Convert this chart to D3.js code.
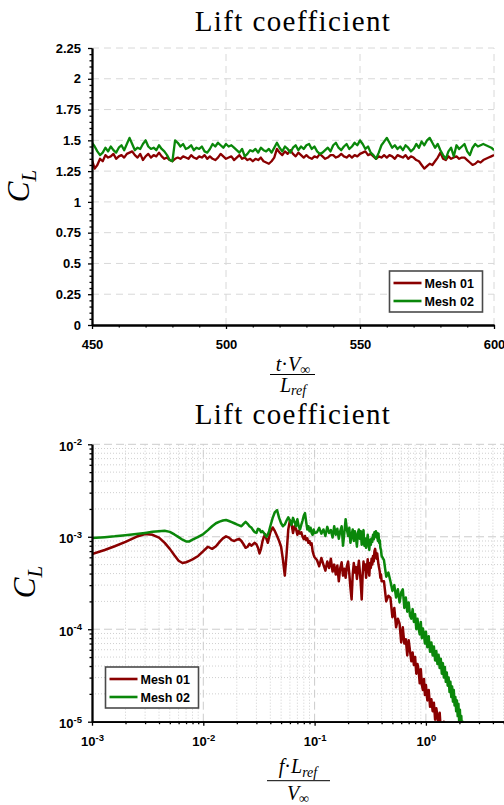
<!DOCTYPE html>
<html>
<head>
<meta charset="utf-8">
<script src="https://cdn.jsdelivr.net/npm/d3@7"></script>
<style>
  body { margin: 0; background: #fff; }
  svg { display: block; }
  .tick text { font-family: "Liberation Sans", Arial, sans-serif; font-weight: bold; font-size: 13px; fill: #000; }
</style>
</head>
<body>
<svg id="chart" width="504" height="805"></svg>
<script>
// ---- Time history of the lift coefficient ----
const timeSamples = [
  450,451,452,453,454,455,456,457,458,459,460,461,462,463,464,465,466,467,468,469,
  470,471,472,473,474,475,476,477,478,479,480,481,482,483,484,485,486,487,488,489,
  490,491,492,493,494,495,496,497,498,499,500,501,502,503,504,505,506,507,508,509,
  510,511,512,513,514,515,516,517,518,519,520,521,522,523,524,525,526,527,528,529,
  530,531,532,533,534,535,536,537,538,539,540,541,542,543,544,545,546,547,548,549,
  550,551,552,553,554,555,556,557,558,559,560,561,562,563,564,565,566,567,568,569,
  570,571,572,573,574,575,576,577,578,579,580,581,582,583,584,585,586,587,588,589,
  590,591,592,593,594,595,596,597,598,599,600
];
const clMesh01 = [
  1.34,1.27,1.30,1.35,1.33,1.38,1.36,1.37,1.39,1.35,
  1.37,1.38,1.36,1.39,1.40,1.41,1.38,1.36,1.39,1.34,
  1.37,1.39,1.36,1.38,1.37,1.40,1.37,1.35,1.36,1.34,
  1.33,1.35,1.36,1.35,1.37,1.36,1.35,1.38,1.36,1.35,
  1.37,1.36,1.38,1.35,1.37,1.35,1.34,1.36,1.39,1.37,
  1.35,1.36,1.37,1.34,1.36,1.38,1.35,1.36,1.34,1.35,
  1.33,1.35,1.34,1.36,1.33,1.32,1.31,1.33,1.36,1.43,
  1.40,1.38,1.41,1.39,1.42,1.39,1.37,1.40,1.38,1.36,
  1.38,1.36,1.35,1.37,1.36,1.39,1.37,1.35,1.36,1.38,
  1.38,1.36,1.37,1.39,1.37,1.36,1.38,1.36,1.38,1.37,
  1.39,1.40,1.41,1.38,1.39,1.37,1.35,1.37,1.36,1.38,
  1.36,1.38,1.37,1.35,1.38,1.37,1.36,1.38,1.35,1.37,
  1.36,1.34,1.33,1.30,1.27,1.29,1.31,1.30,1.33,1.36,
  1.40,1.35,1.34,1.37,1.35,1.36,1.37,1.35,1.36,1.36,
  1.34,1.32,1.30,1.31,1.33,1.32,1.34,1.35,1.36,1.37,
  1.38
];
const clMesh02 = [
  1.48,1.45,1.41,1.38,1.40,1.44,1.41,1.45,1.42,1.40,
  1.44,1.46,1.42,1.47,1.52,1.47,1.42,1.44,1.43,1.47,
  1.50,1.45,1.43,1.44,1.42,1.46,1.43,1.41,1.38,1.34,
  1.33,1.50,1.48,1.45,1.47,1.43,1.44,1.46,1.42,1.44,
  1.43,1.45,1.41,1.40,1.43,1.47,1.45,1.48,1.46,1.44,
  1.47,1.45,1.46,1.44,1.42,1.40,1.43,1.37,1.39,1.42,
  1.41,1.43,1.40,1.44,1.42,1.41,1.43,1.40,1.44,1.48,
  1.44,1.41,1.45,1.43,1.40,1.44,1.46,1.42,1.45,1.43,
  1.46,1.47,1.43,1.45,1.41,1.39,1.40,1.42,1.44,1.41,
  1.46,1.48,1.44,1.42,1.45,1.47,1.43,1.45,1.48,1.46,
  1.50,1.47,1.43,1.45,1.40,1.38,1.35,1.40,1.46,1.49,
  1.52,1.48,1.44,1.46,1.43,1.45,1.42,1.46,1.44,1.41,
  1.43,1.47,1.44,1.49,1.46,1.50,1.52,1.48,1.44,1.47,
  1.42,1.38,1.35,1.41,1.44,1.37,1.46,1.43,1.45,1.47,
  1.41,1.38,1.44,1.47,1.45,1.46,1.47,1.46,1.45,1.44,
  1.42
];
const timeTicks = [450, 500, 550, 600];
const clTicks = [0, 0.25, 0.5, 0.75, 1, 1.25, 1.5, 1.75, 2, 2.25];
const clTickLabels = ["0", "0.25", "0.5", "0.75", "1", "1.25", "1.5", "1.75", "2", "2.25"];

// ---- Spectrum of the lift coefficient ----
const psdFreq = [
  0.001,0.0013,0.0016,0.002,0.0025,0.003,0.0035,0.004,0.0045,0.005,0.0055,0.006,0.0065,0.007,
  0.0075,0.008,0.009,0.01,0.011,0.012,0.013,0.014,0.015,0.016,0.017,0.018,0.019,0.02,
  0.021,0.022,0.023,0.024,0.025,0.026,0.027,0.028,0.029,0.03,0.031,0.032,0.033,0.034,0.035,
  0.036,0.037,0.038,0.039,0.04,
  0.042,0.044,0.046,0.048,0.05,0.052,0.054,0.056,0.058,0.06,0.062,0.064,0.066,0.068,0.07,
  0.072,0.074,0.076,0.078,0.08,0.082,0.084,0.086,0.088,0.09,0.092,0.094,0.096,0.098,0.1,
  0.105,0.11,0.115,0.12,0.125,0.13,0.135,0.14,0.145,0.15,0.155,0.16,0.165,0.17,0.175,0.18,
  0.185,0.19,0.195,0.2,0.205,0.21,0.215,0.22,0.225,0.23,0.235,0.24,0.245,0.25,0.255,0.26,
  0.265,0.27,0.275,0.28,0.285,0.29,0.295,0.3,0.305,0.31,0.315,0.32,0.325,0.33,0.335,0.34,
  0.345,0.35,0.355,0.36,0.365,0.37,0.375,0.38,0.385,0.39,0.395,0.4,
  0.42,0.44,0.46,0.48,0.5,0.52,0.54,0.56,0.58,0.6,0.62,0.64,0.66,0.68,0.7,0.72,0.74,0.76,
  0.78,0.8,0.82,0.84,0.86,0.88,0.9,0.92,0.94,0.96,0.98,1.0,
  1.03,1.06,1.09,1.12,1.15,1.18,1.21,1.24,1.27,1.3,1.33,1.36,1.39,1.42,1.45,1.48,1.51,1.54,
  1.57,1.6,1.63,1.66,1.69,1.72,1.75,1.78,1.81,1.84,1.87,1.9,1.93,1.96,1.99,2.02,2.05,2.08,
  2.11,2.14,2.17,2.2,2.23,2.26
];
const psdMesh01 = [
  6.5e-4,7.2e-4,7.9e-4,8.8e-4,1.0e-3,1.07e-3,1.05e-3,9.8e-4,8.6e-4,7.4e-4,6.3e-4,5.5e-4,5.2e-4,5.3e-4,
  5.5e-4,5.7e-4,6.2e-4,7.0e-4,7.8e-4,7.4e-4,7.9e-4,8.8e-4,9.6e-4,1.01e-3,9.8e-4,9.2e-4,9.0e-4,9.3e-4,
  9.5e-4,9.0e-4,8.3e-4,7.6e-4,7.8e-4,8.4e-4,8.0e-4,8.3e-4,8.6e-4,8.3e-4,7.6e-4,6.6e-4,7.4e-4,8.9e-4,
  1.0e-3,1.06e-3,9.4e-4,8.6e-4,9.8e-4,1.12e-3,
  1.26e-3,1.15e-3,1.02e-3,9.0e-4,7.8e-4,5.6e-4,3.8e-4,6.5e-4,1.2e-3,1.5e-3,1.38e-3,1.1e-3,1.3e-3,
  1.22e-3,1.05e-3,1.16e-3,1.08e-3,1.12e-3,1.0e-3,9.4e-4,1.02e-3,9.2e-4,9.6e-4,8.6e-4,9.0e-4,8.2e-4,
  8.5e-4,7.0e-4,6.4e-4,6.0e-4,
  5.6e-4,4.8e-4,5.9e-4,5.0e-4,4.3e-4,5.4e-4,4.6e-4,5.8e-4,4.2e-4,5.0e-4,3.9e-4,4.9e-4,3.3e-4,4.6e-4,
  5.3e-4,3.8e-4,4.5e-4,3.6e-4,4.8e-4,5.4e-4,4.0e-4,2.8e-4,2.1e-4,3.9e-4,5.2e-4,4.1e-4,4.7e-4,3.5e-4,
  4.4e-4,5.5e-4,4.2e-4,3.1e-4,2.1e-4,3.8e-4,5.4e-4,4.4e-4,5.0e-4,3.6e-4,4.6e-4,5.7e-4,4.5e-4,3.8e-4,
  5.2e-4,4.6e-4,5.8e-4,5.0e-4,6.2e-4,5.4e-4,7.0e-4,7.4e-4,6.4e-4,5.8e-4,6.6e-4,5.7e-4,5.0e-4,4.6e-4,
  4.2e-4,3.6e-4,3.9e-4,3.3e-4,
  3.3e-4,2.0e-4,2.3e-4,2.2e-4,1.35e-4,1.7e-4,1.05e-4,1.3e-4,1.15e-4,7.2e-5,1.05e-4,7.0e-5,7.8e-5,5.2e-5,
  7.6e-5,5.8e-5,4.5e-5,5.6e-5,4.1e-5,5.0e-5,3.3e-5,4.2e-5,3.6e-5,2.6e-5,3.7e-5,2.5e-5,2.2e-5,2.9e-5,
  1.95e-5,2.5e-5,
  1.7e-5,2.2e-5,1.45e-5,1.75e-5,1.3e-5,1.6e-5,1.05e-5,1.4e-5,1.15e-5,8.5e-6,1.25e-5,8.2e-6,9.6e-6,
  7.4e-6,1.0e-5,6.5e-6,7.8e-6,5.6e-6
];
const psdMesh02 = [
  9.7e-4,9.9e-4,1.01e-3,1.04e-3,1.07e-3,1.1e-3,1.13e-3,1.15e-3,1.16e-3,1.13e-3,1.06e-3,9.9e-4,9.3e-4,8.9e-4,
  8.9e-4,9.3e-4,1.0e-3,1.07e-3,1.18e-3,1.3e-3,1.4e-3,1.46e-3,1.5e-3,1.52e-3,1.48e-3,1.44e-3,1.4e-3,1.36e-3,
  1.33e-3,1.3e-3,1.38e-3,1.45e-3,1.38e-3,1.3e-3,1.26e-3,1.18e-3,1.12e-3,1.1e-3,1.22e-3,1.2e-3,1.12e-3,
  1.15e-3,1.1e-3,1.04e-3,1.0e-3,1.06e-3,1.15e-3,1.3e-3,
  1.6e-3,1.85e-3,1.94e-3,1.6e-3,1.4e-3,1.3e-3,1.36e-3,1.5e-3,1.62e-3,1.5e-3,1.35e-3,1.6e-3,1.45e-3,
  1.3e-3,1.55e-3,1.3e-3,1.2e-3,1.35e-3,1.5e-3,1.7e-3,1.8e-3,1.45e-3,1.2e-3,1.3e-3,1.15e-3,1.25e-3,
  1.1e-3,1.05e-3,1.2e-3,1.1e-3,
  1.12e-3,1.25e-3,1.08e-3,1.2e-3,1.02e-3,1.28e-3,1.1e-3,1.18e-3,9.8e-4,1.3e-3,1.05e-3,1.22e-3,9.5e-4,
  1.15e-3,1.3e-3,8.0e-4,1.1e-3,1.55e-3,1.2e-3,1.02e-3,1.25e-3,8.6e-4,1.05e-3,1.2e-3,9.0e-4,1.15e-3,
  1.0e-3,7.8e-4,1.1e-3,1.2e-3,9.5e-4,1.15e-3,8.2e-4,1.05e-3,1.18e-3,8.0e-4,9.6e-4,7.6e-4,9.0e-4,
  1.05e-3,8.4e-4,7.2e-4,9.3e-4,8.2e-4,9.6e-4,8.8e-4,1.05e-3,9.4e-4,1.12e-3,1.06e-3,1.15e-3,9.8e-4,
  1.1e-3,9.0e-4,1.08e-3,8.6e-4,9.2e-4,7.6e-4,7.2e-4,6.2e-4,
  5.6e-4,3.7e-4,4.1e-4,3.3e-4,2.6e-4,3.0e-4,2.2e-4,2.7e-4,1.95e-4,2.5e-4,2.7e-4,1.7e-4,2.2e-4,1.55e-4,
  1.95e-4,1.4e-4,1.3e-4,1.65e-4,1.2e-4,1.45e-4,1.0e-4,1.3e-4,1.02e-4,8.8e-5,1.2e-4,8.0e-5,1.02e-4,
  8.8e-5,7.0e-5,9.4e-5,
  6.4e-5,8.4e-5,5.7e-5,7.2e-5,5.2e-5,6.5e-5,4.6e-5,5.8e-5,4.2e-5,5.3e-5,3.8e-5,4.8e-5,3.3e-5,4.3e-5,
  3.0e-5,3.9e-5,2.7e-5,3.4e-5,2.45e-5,3.0e-5,2.1e-5,2.7e-5,1.85e-5,2.4e-5,1.65e-5,2.2e-5,1.5e-5,1.85e-5,
  1.3e-5,1.7e-5,1.15e-5,1.55e-5,1.0e-5,1.35e-5,8.8e-6,1.15e-5,7.8e-6,1.0e-5,6.9e-6,8.8e-6,6.1e-6,7.5e-6
];
const freqTicks = [1e-3, 1e-2, 1e-1, 1e0];
const psdTicks = [1e-5, 1e-4, 1e-3, 1e-2];
const seriesNames = ["Mesh 01", "Mesh 02"];
const seriesColors = ["#8a0000", "#0a870a"];

const svg = d3.select("#chart");
const SERIF = "'Liberation Serif', 'DejaVu Serif', serif";

// ------------------------------------------------------------------
// Helpers
function minorDecades(lo, hi) {
  const out = [];
  for (let e = lo; e < hi; e++) for (let m = 2; m <= 9; m++) out.push(m * Math.pow(10, e));
  return out;
}
function styleAxis(g) {
  g.select(".domain").attr("stroke", "#000").attr("stroke-width", 1.8);
  g.selectAll(".tick line").attr("stroke", "#000").attr("stroke-width", 1.3);
}
function powerLabel(sel) {
  sel.each(function (d) {
    const t = d3.select(this);
    const e = Math.round(Math.log10(d));
    t.text(null);
    t.append("tspan").text("10");
    t.append("tspan").attr("font-size", "9.5px").attr("dy", "-0.55em").text(e);
  });
}
function title(y) {
  svg.append("text").attr("x", 293).attr("y", y).attr("text-anchor", "middle")
    .attr("font-family", SERIF).attr("font-size", 29).attr("letter-spacing", 1.4)
    .text("Lift coefficient");
}
function yLabel(x, y) {
  const t = svg.append("text").attr("transform", `translate(${x},${y}) rotate(-90)`)
    .attr("text-anchor", "middle").attr("font-family", SERIF).attr("font-style", "italic");
  t.append("tspan").attr("font-size", 31).text("C");
  t.append("tspan").attr("font-size", 21).attr("dy", 7).text("L");
}
function legend(x0, y0) {
  const g = svg.append("g").attr("transform", `translate(${x0},${y0})`);
  g.append("rect").attr("width", 93).attr("height", 41).attr("fill", "#fff")
    .attr("stroke", "#4a4a4a").attr("stroke-width", 1.6);
  seriesNames.forEach((name, i) => {
    const yy = 12 + i * 18;
    g.append("line").attr("x1", 4).attr("x2", 32).attr("y1", yy).attr("y2", yy)
      .attr("stroke", seriesColors[i]).attr("stroke-width", 2.6);
    g.append("text").attr("x", 35).attr("y", yy + 4.5)
      .attr("font-family", "'Liberation Sans', Arial, sans-serif").attr("font-weight", "bold")
      .attr("font-size", 12.5).text(name);
  });
}

// ------------------------------------------------------------------
// Top panel: C_L versus convective time
{
  const x = d3.scaleLinear().domain([450, 600]).range([92, 494]);
  const y = d3.scaleLinear().domain([0, 2.25]).range([325, 48]);

  const grid = svg.append("g").attr("stroke", "#d8d8d8").attr("stroke-width", 1)
    .attr("stroke-dasharray", "7,5").attr("fill", "none");
  clTicks.filter(v => v > 0).forEach(v =>
    grid.append("line").attr("x1", x(450)).attr("x2", x(600)).attr("y1", y(v)).attr("y2", y(v)));
  timeTicks.filter(v => v > 450).forEach(v =>
    grid.append("line").attr("x1", x(v)).attr("x2", x(v)).attr("y1", y(0)).attr("y2", y(2.25)));

  svg.append("clipPath").attr("id", "clipTop").append("rect")
    .attr("x", 92).attr("y", 48).attr("width", 402).attr("height", 277);
  const line = d3.line().x((d, i) => x(timeSamples[i])).y(d => y(d));
  [clMesh01, clMesh02].forEach((s, k) => {
    svg.append("path").datum(s).attr("clip-path", "url(#clipTop)")
      .attr("fill", "none").attr("stroke", seriesColors[k]).attr("stroke-width", 2.3)
      .attr("stroke-linejoin", "round").attr("d", line);
  });

  const xMinor = d3.range(460, 600, 10).filter(v => !timeTicks.includes(v));
  svg.append("g").attr("transform", "translate(0,325)")
    .call(d3.axisBottom(x).tickValues(xMinor).tickSize(2.5).tickSizeOuter(0).tickFormat(""))
    .call(styleAxis);
  svg.append("g").attr("transform", "translate(0,325)")
    .call(d3.axisBottom(x).tickValues(timeTicks).tickSize(4).tickSizeOuter(0).tickPadding(11).tickFormat(d3.format("d")))
    .call(styleAxis);

  const yMinor = d3.range(0.05, 2.25, 0.05).filter(v => Math.abs(v / 0.25 - Math.round(v / 0.25)) > 1e-6);
  svg.append("g").attr("transform", "translate(92,0)")
    .call(d3.axisLeft(y).tickValues(yMinor).tickSize(2.5).tickSizeOuter(0).tickFormat(""))
    .call(styleAxis);
  svg.append("g").attr("transform", "translate(92,0)")
    .call(d3.axisLeft(y).tickValues(clTicks).tickSize(4).tickSizeOuter(0).tickPadding(7)
      .tickFormat((d, i) => clTickLabels[i]))
    .call(styleAxis);

  title(31);
  yLabel(29, 186);
  legend(389.5, 271);

  // t·V∞ / L_ref
  const num = svg.append("text").attr("x", 293).attr("y", 371).attr("text-anchor", "middle")
    .attr("font-family", SERIF).attr("font-size", 20);
  num.append("tspan").attr("font-style", "italic").text("t");
  num.append("tspan").text("·");
  num.append("tspan").attr("font-style", "italic").text("V");
  num.append("tspan").attr("font-size", 14).attr("dy", 3).text("∞");
  svg.append("line").attr("x1", 270).attr("x2", 315).attr("y1", 374.5).attr("y2", 374.5)
    .attr("stroke", "#000").attr("stroke-width", 1);
  const den = svg.append("text").attr("x", 293).attr("y", 391.5).attr("text-anchor", "middle")
    .attr("font-family", SERIF).attr("font-size", 20).attr("font-style", "italic");
  den.append("tspan").text("L");
  den.append("tspan").attr("font-size", 14).attr("dy", 3).text("ref");
}

// ------------------------------------------------------------------
// Bottom panel: spectrum of C_L, log-log
{
  const x = d3.scaleLog().domain([1e-3, 1e1]).range([92, 537.2]);
  const y = d3.scaleLog().domain([1e-5, 1e-2]).range([721.7, 444.3]);

  const minorG = svg.append("g").attr("stroke", "#cfcfcf").attr("stroke-width", 1)
    .attr("stroke-dasharray", "1,2").attr("fill", "none");
  minorDecades(-5, -2).forEach(v =>
    minorG.append("line").attr("x1", x(1e-3)).attr("x2", x(1e1)).attr("y1", y(v)).attr("y2", y(v)));
  minorDecades(-3, 1).forEach(v =>
    minorG.append("line").attr("x1", x(v)).attr("x2", x(v)).attr("y1", y(1e-5)).attr("y2", y(1e-2)));
  const majorG = svg.append("g").attr("stroke", "#cccccc").attr("stroke-width", 1)
    .attr("stroke-dasharray", "8,4").attr("fill", "none");
  psdTicks.filter(v => v > 1e-5).forEach(v =>
    majorG.append("line").attr("x1", x(1e-3)).attr("x2", x(1e1)).attr("y1", y(v)).attr("y2", y(v)));
  freqTicks.filter(v => v > 1e-3).forEach(v =>
    majorG.append("line").attr("x1", x(v)).attr("x2", x(v)).attr("y1", y(1e-5)).attr("y2", y(1e-2)));

  svg.append("clipPath").attr("id", "clipBottom").append("rect")
    .attr("x", 92).attr("y", 444.3).attr("width", 445.2).attr("height", 277.4);
  const line = d3.line().x((d, i) => x(psdFreq[i])).y(d => y(d));
  [psdMesh01, psdMesh02].forEach((s, k) => {
    svg.append("path").datum(s).attr("clip-path", "url(#clipBottom)")
      .attr("fill", "none").attr("stroke", seriesColors[k]).attr("stroke-width", 2.5)
      .attr("stroke-linejoin", "round").attr("d", line);
  });

  svg.append("g").attr("transform", "translate(0,721.7)")
    .call(d3.axisBottom(x).tickValues(minorDecades(-3, 1)).tickSize(2.5).tickSizeOuter(0).tickFormat(""))
    .call(styleAxis);
  svg.append("g").attr("transform", "translate(0,721.7)")
    .call(d3.axisBottom(x).tickValues(freqTicks).tickSize(4).tickSizeOuter(0).tickPadding(11))
    .call(styleAxis)
    .call(g => g.selectAll(".tick text").call(powerLabel));

  svg.append("g").attr("transform", "translate(92,0)")
    .call(d3.axisLeft(y).tickValues(minorDecades(-5, -2)).tickSize(2.5).tickSizeOuter(0).tickFormat(""))
    .call(styleAxis);
  svg.append("g").attr("transform", "translate(92,0)")
    .call(d3.axisLeft(y).tickValues(psdTicks).tickSize(4).tickSizeOuter(0).tickPadding(6))
    .call(styleAxis)
    .call(g => g.selectAll(".tick text").attr("dy", "0.45em").call(powerLabel));

  title(424);
  yLabel(35, 582);
  legend(105.5, 667);

  // f·L_ref / V∞
  const num = svg.append("text").attr("x", 298).attr("y", 773).attr("text-anchor", "middle")
    .attr("font-family", SERIF).attr("font-size", 20);
  num.append("tspan").attr("font-style", "italic").text("f");
  num.append("tspan").text("·");
  num.append("tspan").attr("font-style", "italic").text("L");
  num.append("tspan").attr("font-size", 14).attr("font-style", "italic").attr("dy", 4).text("ref");
  svg.append("line").attr("x1", 267).attr("x2", 330).attr("y1", 780.7).attr("y2", 780.7)
    .attr("stroke", "#000").attr("stroke-width", 1);
  const den = svg.append("text").attr("x", 298).attr("y", 800).attr("text-anchor", "middle")
    .attr("font-family", SERIF).attr("font-size", 20);
  den.append("tspan").attr("font-style", "italic").text("V");
  den.append("tspan").attr("font-size", 14).attr("dy", 3).text("∞");
}
</script>
</body>
</html>
